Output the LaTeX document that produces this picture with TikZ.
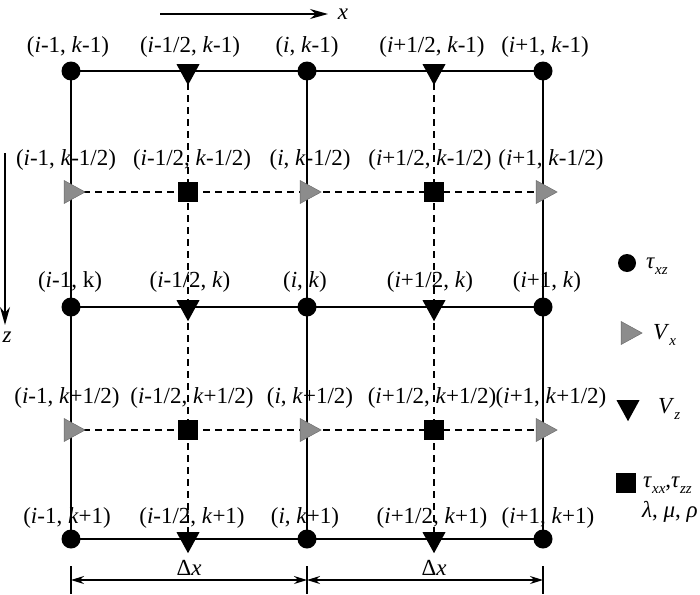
\documentclass[tikz,border=0pt]{standalone}
\usepackage{fontspec}
\setmainfont{Liberation Serif}
\usetikzlibrary{shapes.geometric,arrows.meta}
\newcommand\myi{\textit{i}}
\newcommand\myk{\textit{k}}
\newcommand\mysub[1]{\raisebox{-0.28em}{\fontsize{15}{15}\selectfont\textit{#1}}}
\begin{document}
\begin{tikzpicture}[x=1pt,y=-1pt,
 font=\fontsize{23}{27}\selectfont,
 solidln/.style={line width=1.4pt},
 dashln/.style={line width=1.3pt, dash pattern=on 7pt off 5pt},
 txz/.style={circle, fill=black, inner sep=0pt, minimum size=19pt},
 mvx/.style={isosceles triangle, isosceles triangle stretches, fill=gray!90, draw=gray!80!black, line width=0.4pt, inner sep=0pt, minimum width=23pt, minimum height=21pt},
 mvz/.style={isosceles triangle, isosceles triangle stretches, shape border rotate=270, fill=black, inner sep=0pt, minimum width=23pt, minimum height=21pt},
 mtxx/.style={rectangle, fill=black, inner sep=0pt, minimum size=20pt},
 lbl/.style={inner sep=0pt, anchor=center},
 leg/.style={inner sep=0pt, anchor=west},
 arr/.style={line width=1.4pt, -{Stealth[length=18pt,width=10pt]}},
 dimarr/.style={line width=1.4pt, {Stealth[length=13pt,width=8pt]}-{Stealth[length=13pt,width=8pt]}},
]
\useasboundingbox (0,0) rectangle (700,594);

% grid coordinates
\foreach \c/\x in {a/71,b/188,c/307,d/434,e/543}{
  \foreach \r/\y in {1/71,2/192,3/307,4/430,5/539}{
    \coordinate (\c\r) at (\x,\y);
  }
}

% solid lines
\foreach \r in {1,3,5}{\draw[solidln] (a\r) -- (e\r);}
\foreach \c in {a,c,e}{\draw[solidln] (\c1) -- (\c5);}
% dashed lines
\foreach \r in {2,4}{\draw[dashln] (a\r) -- (e\r);}
\foreach \c in {b,d}{\draw[dashln] (\c1) -- (\c5);}

% markers
\foreach \c in {a,c,e}{\foreach \r in {1,3,5}{\node[txz] (m\c\r) at (\c\r) {};}}
\foreach \c in {b,d}{\foreach \r in {1,3,5}{\node[mvz] (m\c\r) at (\c\r) {};}}
\foreach \c in {a,c,e}{\foreach \r in {2,4}{\node[mvx] (m\c\r) at (\c\r) {};}}
\foreach \c in {b,d}{\foreach \r in {2,4}{\node[mtxx] (m\c\r) at (\c\r) {};}}

% labels row k-1
\node[lbl] (l11) at (68,47) {(\myi-1, \myk-1)};
\node[lbl] (l12) at (190,47) {(\myi-1/2, \myk-1)};
\node[lbl] (l13) at (307,47) {(\myi, \myk-1)};
\node[lbl] (l14) at (432,47) {(\myi+1/2, \myk-1)};
\node[lbl] (l15) at (545,47) {(\myi+1, \myk-1)};
% row k-1/2
\node[lbl] (l21) at (66,160) {(\myi-1, \myk-1/2)};
\node[lbl] (l22) at (192,160) {(\myi-1/2, \myk-1/2)};
\node[lbl] (l23) at (310,160) {(\myi, \myk-1/2)};
\node[lbl] (l24) at (430,160) {(\myi+1/2, \myk-1/2)};
\node[lbl] (l25) at (551,160) {(\myi+1, \myk-1/2)};
% row k
\node[lbl] (l31) at (70,282) {(\myi-1, k)};
\node[lbl] (l32) at (190,282) {(\myi-1/2, \myk)};
\node[lbl] (l33) at (305,282) {(\myi, \myk)};
\node[lbl] (l34) at (430,282) {(\myi+1/2, \myk)};
\node[lbl] (l35) at (547,282) {(\myi+1, \myk)};
% row k+1/2
\node[lbl] (l41) at (67,398) {(\myi-1, \myk+1/2)};
\node[lbl] (l42) at (192,398) {(\myi-1/2, \myk+1/2)};
\node[lbl] (l43) at (310,398) {(\myi, \myk+1/2)};
\node[lbl] (l44) at (432,398) {(\myi+1/2, \myk+1/2)};
\node[lbl] (l45) at (551,398) {(\myi+1, \myk+1/2)};
% row k+1
\node[lbl] (l51) at (67,518) {(\myi-1, \myk+1)};
\node[lbl] (l52) at (192,518) {(\myi-1/2, \myk+1)};
\node[lbl] (l53) at (305,518) {(\myi, \myk+1)};
\node[lbl] (l54) at (432,518) {(\myi+1/2, \myk+1)};
\node[lbl] (l55) at (548,518) {(\myi+1, \myk+1)};

% axes
\coordinate (xs) at (160,14);
\coordinate (xe) at (328,14);
\draw[arr] (xs) -- (xe);
\node[lbl] (xl) at (343,14) {\textit{x}};
\coordinate (zs) at (5,153);
\coordinate (ze) at (5,325);
\draw[arr] (zs) -- (ze);
\node[lbl] (zl) at (7,337) {\textit{z}};

% dimension lines
\foreach \c/\x in {a/71,c/307,e/543}{
  \coordinate (t\c1) at (\x,566);
  \coordinate (t\c2) at (\x,594);
  \coordinate (d\c) at (\x,580);
  \draw[solidln] (t\c1) -- (t\c2);
}
\draw[dimarr] (da) -- (dc);
\draw[dimarr] (dc) -- (de);
\node[lbl] (dx1) at (189,568) {Δ\textit{x}};
\node[lbl] (dx2) at (434,568) {Δ\textit{x}};

% legend
\node[txz, minimum size=18pt] (g1) at (627,263) {};
\node[leg] (g1t) at (646,266) {\textit{τ}\mysub{xz}};
\node[mvx] (g2) at (628,333) {};
\node[leg] (g2t) at (653,335) {\textit{V}\mysub{x}};
\node[mvz] (g3) at (628,407) {};
\node[leg] (g3t) at (658,409) {\textit{V}\mysub{z}};
\node[mtxx] (g4) at (626,483) {};
\node[leg] (g4t) at (643,485) {\textit{τ}\mysub{xx},\textit{τ}\mysub{zz}};
\node[leg] (g5t) at (642,512) {\textit{λ}, \textit{μ}, \textit{ρ}};
\end{tikzpicture}
\end{document}
